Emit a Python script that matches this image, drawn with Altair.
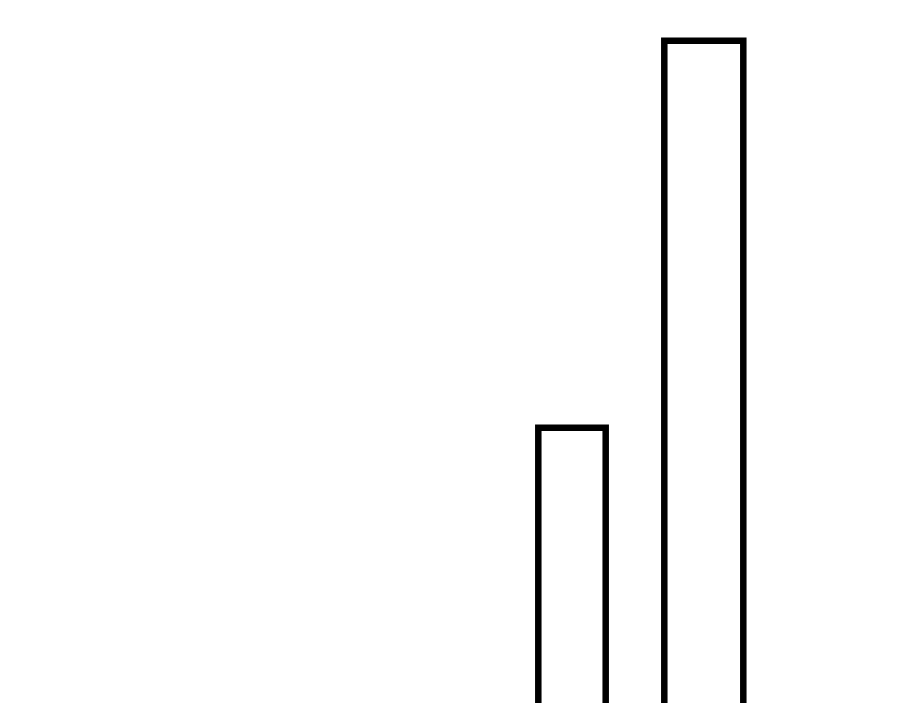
import altair as alt
import pandas as pd

# bar extents (in chart units) and heights
bar_names = ["A", "B"]
bar_start = [530.3, 656.3]
bar_end = [597.7, 735.3]
bar_value = [472.3, 859.3]

df = pd.DataFrame({"name": bar_names, "x0": bar_start, "x1": bar_end, "v": bar_value})

chart = (
    alt.Chart(df)
    .mark_bar(fill="white", stroke="black", strokeWidth=6.5, strokeJoin="miter")
    .encode(
        x=alt.X("x0:Q", scale=alt.Scale(domain=[0, 884], nice=False, zero=False), axis=None),
        x2="x1:Q",
        y=alt.Y("v:Q", scale=alt.Scale(domain=[0, 892], nice=False), axis=None),
        y2=alt.datum(0),
    )
    .properties(width=884, height=892, padding=0, background="white")
    .configure_view(stroke="transparent", strokeWidth=0)
)

chart.save("out.html", embed_options={"renderer": "svg", "actions": False})
